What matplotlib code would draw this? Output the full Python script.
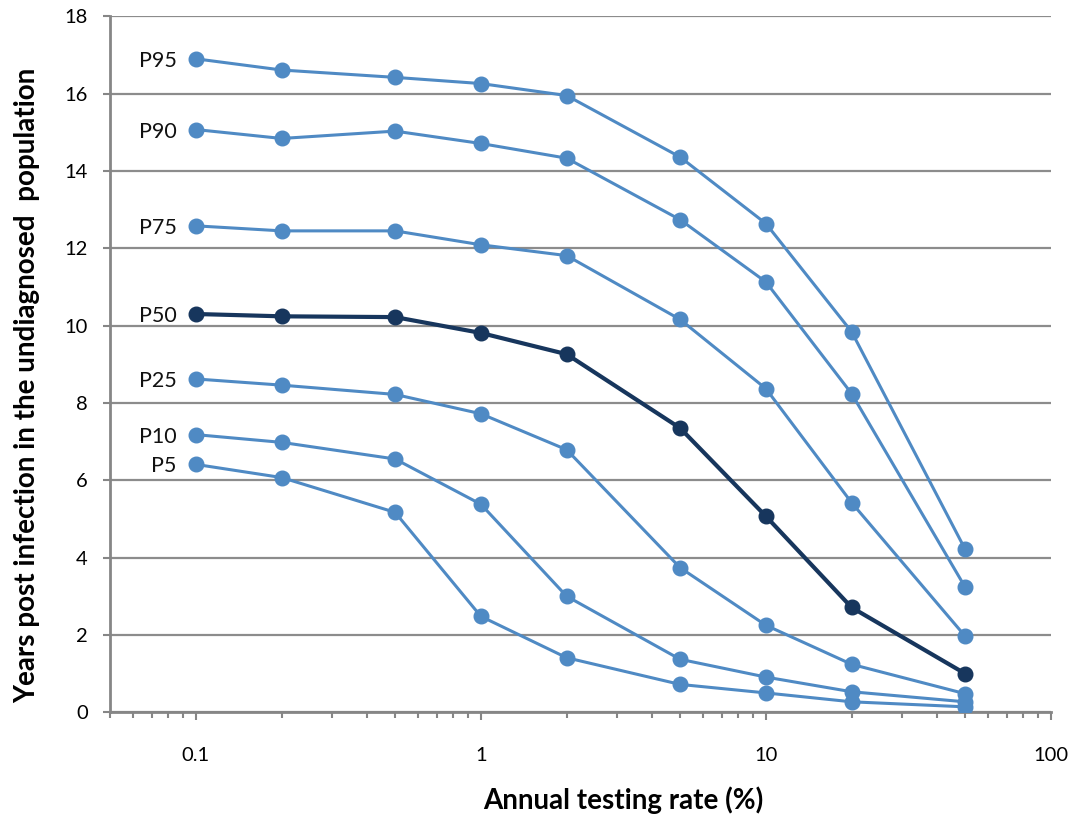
import matplotlib
matplotlib.use("Agg")
import matplotlib.pyplot as plt
from matplotlib.ticker import FixedLocator, LogLocator, NullFormatter
import numpy as np

plt.rcParams['font.family'] = ['Lato', 'DejaVu Sans']

# testing rate (%) and percentiles of years since infection
rates = [0.1, 0.2, 0.5, 1, 2, 5, 10, 20, 50]
labels = ['P95', 'P90', 'P75', 'P50', 'P25', 'P10', 'P5']
p95 = [16.90, 16.61, 16.42, 16.26, 15.95, 14.36, 12.64, 9.84, 4.22]
p90 = [15.07, 14.84, 15.03, 14.71, 14.33, 12.74, 11.13, 8.24, 3.24]
p75 = [12.58, 12.45, 12.45, 12.09, 11.81, 10.16, 8.37, 5.42, 1.97]
p50 = [10.30, 10.24, 10.22, 9.81, 9.26, 7.35, 5.07, 2.71, 1.00]
p25 = [8.62, 8.46, 8.22, 7.72, 6.79, 3.74, 2.25, 1.24, 0.48]
p10 = [7.18, 6.98, 6.55, 5.38, 3.00, 1.37, 0.91, 0.53, 0.27]
p5 = [6.41, 6.07, 5.17, 2.48, 1.41, 0.72, 0.50, 0.27, 0.14]
series = [p95, p90, p75, p50, p25, p10, p5]

light = '#4F8AC4'
dark = '#17365D'

fig = plt.figure(figsize=(10.69, 8.14), dpi=100)
ax = fig.add_axes([0.103, 0.125, 0.880, 0.855])

for lab, ys in zip(labels, series):
    c = dark if lab == 'P50' else light
    lw = 3.0 if lab == 'P50' else 2.2
    ax.plot(rates, ys, color=c, lw=lw, marker='o', ms=10.5, zorder=3)
    ax.annotate(lab, (rates[0], ys[0]), xytext=(-14, -1.5), textcoords='offset points',
                ha='right', va='center', fontsize=15.5, color='#111111')

ax.set_xscale('log')
ax.set_xlim(0.05, 100)
ax.set_ylim(0, 18)
ax.yaxis.set_major_locator(FixedLocator(np.arange(0, 19, 2)))
ax.xaxis.set_major_locator(FixedLocator([0.1, 1, 10, 100]))
ax.set_xticklabels(['0.1', '1', '10', '100'])
ax.xaxis.set_minor_locator(LogLocator(base=10, subs=np.arange(2, 10)))
ax.xaxis.set_minor_formatter(NullFormatter())

ax.grid(axis='y', color='#8C8C8C', lw=1.6, zorder=0)
for s in ['top', 'right']:
    ax.spines[s].set_visible(False)
for s in ['left', 'bottom']:
    ax.spines[s].set_color('#868686')
    ax.spines[s].set_linewidth(2)

ax.tick_params(axis='y', direction='out', length=5, width=1.5, color='#868686',
               labelsize=14.5, pad=11)
ax.tick_params(axis='x', which='major', direction='out', length=6, width=1.5,
               color='#868686', labelsize=14.5, pad=19)
ax.tick_params(axis='x', which='minor', direction='out', length=4, width=1.5,
               color='#868686')

ax.set_xlabel('Annual testing rate (%)', fontsize=20, fontweight='bold')
ax.set_ylabel('Years post infection in the undiagnosed  population', fontsize=20,
              fontweight='bold')
ax.xaxis.set_label_coords(0.546, -0.106)
ax.yaxis.set_label_coords(-0.074, 0.47)

fig.savefig('out.png', dpi=100)
